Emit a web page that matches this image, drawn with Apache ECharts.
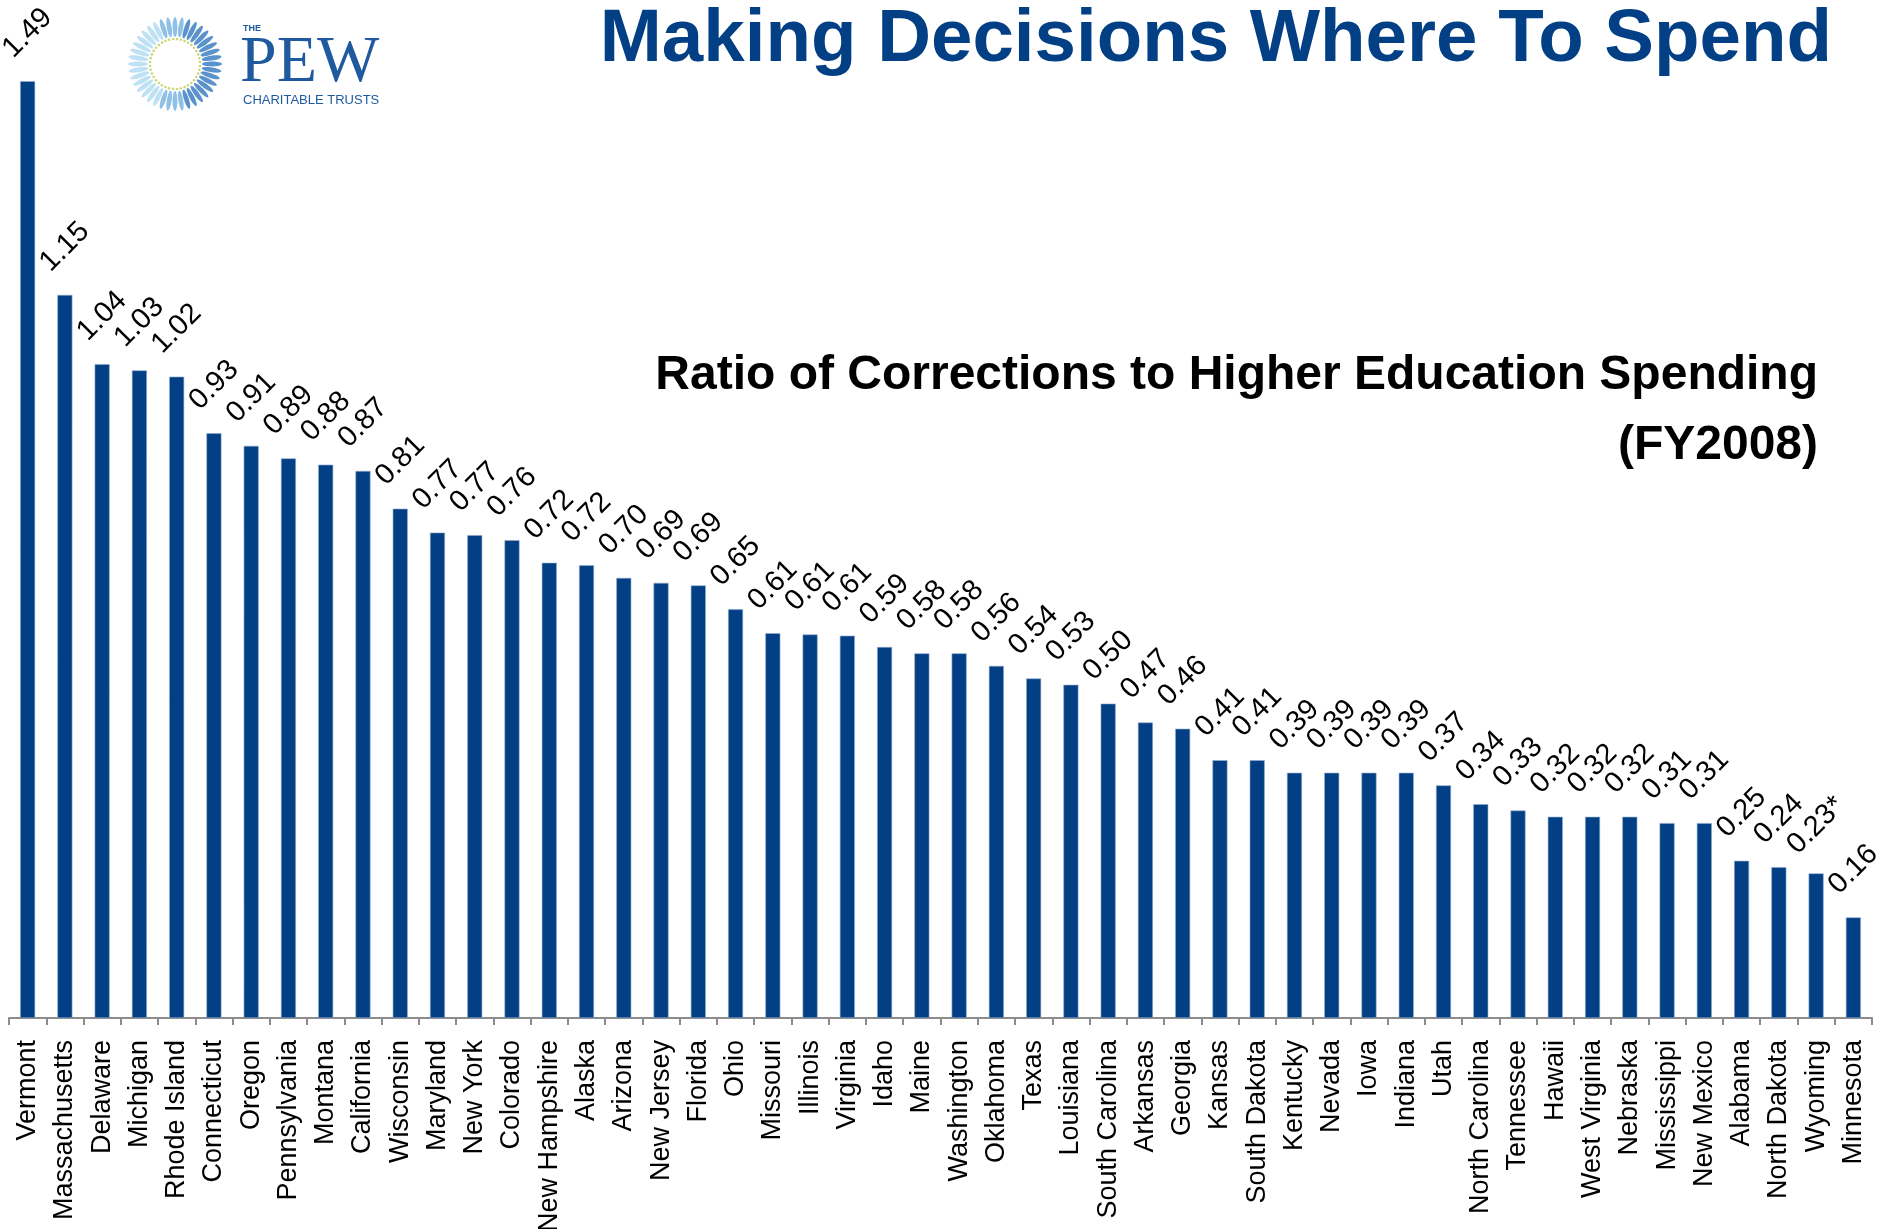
<!DOCTYPE html>
<html lang="en">
<head>
    <meta charset="utf-8">
    <title>Making Decisions Where To Spend</title>
    <script src="https://cdn.jsdelivr.net/npm/echarts@6/dist/echarts.min.js"></script>
    <style>
        html, body { margin: 0; padding: 0; background: #fff; }
    </style>
</head>
<body>
    <div id="main" style="width: 1881px;height:1229px;"></div>
<script type="text/javascript">
    // states, sorted by ratio
    var states = ['Vermont', 'Massachusetts', 'Delaware', 'Michigan', 'Rhode Island', 'Connecticut',
        'Oregon', 'Pennsylvania', 'Montana', 'California', 'Wisconsin', 'Maryland', 'New York',
        'Colorado', 'New Hampshire', 'Alaska', 'Arizona', 'New Jersey', 'Florida', 'Ohio',
        'Missouri', 'Illinois', 'Virginia', 'Idaho', 'Maine', 'Washington', 'Oklahoma', 'Texas',
        'Louisiana', 'South Carolina', 'Arkansas', 'Georgia', 'Kansas', 'South Dakota', 'Kentucky',
        'Nevada', 'Iowa', 'Indiana', 'Utah', 'North Carolina', 'Tennessee', 'Hawaii',
        'West Virginia', 'Nebraska', 'Mississippi', 'New Mexico', 'Alabama', 'North Dakota',
        'Wyoming', 'Minnesota'];

    // ratio of corrections to higher education spending
    var ratios = [1.49, 1.15, 1.04, 1.03, 1.02, 0.93, 0.91, 0.89, 0.88, 0.87, 0.81, 0.772, 0.768,
        0.76, 0.724, 0.72, 0.70, 0.692, 0.688, 0.65, 0.612, 0.61, 0.608, 0.59, 0.58, 0.58, 0.56,
        0.54, 0.53, 0.50, 0.47, 0.46, 0.41, 0.41, 0.39, 0.39, 0.39, 0.39, 0.37, 0.34, 0.33, 0.32,
        0.32, 0.32, 0.31, 0.31, 0.25, 0.24, 0.23, 0.16];

    var footnotes = { 'Wyoming': '*' };

    var FONT = "'Liberation Sans', Arial, sans-serif";
    var PEW_BLUE = '#1f5a9e';

    // logo sunburst (decoration)
    var logo = [];
    var cx = 175, cy = 64, n = 40;
    for (var i = 0; i < n; i++) {
        var a = i / n * Math.PI * 2;
        // lighter on the left, darker blue on the right
        var t = (Math.cos(a) + 1) / 2;
        var col = t > 0.6 ? '#3d7fc2' : (t > 0.3 ? '#7ab6e0' : '#b4dcf2');
        logo.push({
            type: 'ellipse',
            x: cx + Math.cos(a) * 37,
            y: cy + Math.sin(a) * 37,
            rotation: -a,
            shape: { cx: 0, cy: 0, rx: 10, ry: 2.4 },
            style: { fill: col, opacity: 0.85 }
        });
        logo.push({
            type: 'circle',
            shape: { cx: cx + Math.cos(a + 0.08) * 25, cy: cy + Math.sin(a + 0.08) * 25, r: 1.3 },
            style: { fill: '#c9d774' }
        });
    }
    logo.push(
        { type: 'text', x: 243, y: 29, style: { text: 'THE', font: "bold 9px " + FONT, fill: PEW_BLUE, textVerticalAlign: 'middle' } },
        { type: 'text', x: 240, y: 64, style: { text: 'PEW', font: "66px 'Liberation Serif', 'DejaVu Serif', serif", fill: PEW_BLUE, textVerticalAlign: 'middle' } },
        { type: 'text', x: 243, y: 100, style: { text: 'CHARITABLE TRUSTS', font: "13px " + FONT, fill: PEW_BLUE, textVerticalAlign: 'middle' } }
    );

    var myChart = echarts.init(document.getElementById('main'));

    var option = {
        animation: false,
        backgroundColor: '#fff',
        grid: {
            left: 9,
            right: 9,
            top: 12,
            bottom: 211,
            containLabel: false,
            outerBoundsMode: 'none'
        },
        xAxis: {
            type: 'category',
            data: states,
            axisLine: { lineStyle: { color: '#8c8c8c', width: 2 } },
            axisTick: { show: true, length: 7, lineStyle: { color: '#8c8c8c', width: 2 } },
            axisLabel: {
                rotate: 90,
                interval: 0,
                margin: 22,
                color: '#000',
                fontSize: 27,
                fontFamily: FONT
            }
        },
        yAxis: {
            type: 'value',
            min: 0,
            max: 1.6,
            show: false,
            splitLine: { show: false }
        },
        series: [{
            type: 'bar',
            data: ratios,
            barWidth: 15,
            itemStyle: {
                color: '#023f85',
                borderColor: '#8fa9cc',
                borderWidth: 0.6
            },
            label: {
                show: true,
                position: 'top',
                distance: 48,
                rotate: 45,
                align: 'center',
                verticalAlign: 'middle',
                color: '#000',
                fontSize: 29,
                fontFamily: FONT,
                formatter: function (p) {
                    return p.value.toFixed(2) + (footnotes[p.name] || '');
                }
            }
        }],
        graphic: [
            {
                type: 'text',
                x: 1832,
                y: 40,
                style: {
                    text: 'Making Decisions Where To Spend',
                    font: "bold 74.5px " + FONT,
                    fill: '#023f85',
                    textAlign: 'right',
                    textVerticalAlign: 'middle'
                }
            },
            {
                type: 'text',
                x: 1818,
                y: 376,
                style: {
                    text: 'Ratio of Corrections to Higher Education Spending',
                    font: "bold 48px " + FONT,
                    fill: '#000',
                    textAlign: 'right',
                    textVerticalAlign: 'middle'
                }
            },
            {
                type: 'text',
                x: 1818,
                y: 446,
                style: {
                    text: '(FY2008)',
                    font: "bold 48px " + FONT,
                    fill: '#000',
                    textAlign: 'right',
                    textVerticalAlign: 'middle'
                }
            },
            {
                type: 'group',
                children: logo
            }
        ]
    };

    myChart.setOption(option);
</script>
</body>
</html>
